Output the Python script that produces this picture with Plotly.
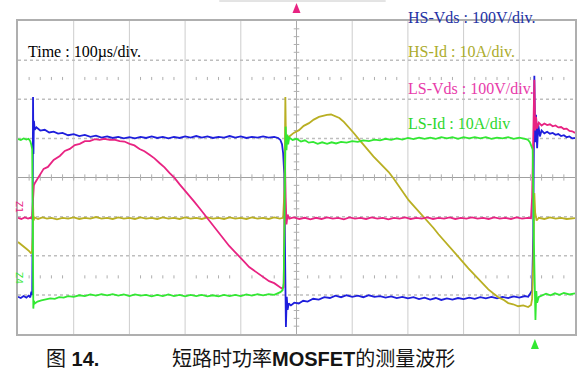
import plotly.graph_objects as go

# Oscilloscope capture: time in microseconds (100 us/div, 10 div), amplitude in divisions (8 div)
hs_vds = [(0,-3.05),(5,-3.08),(10,-3.03),(15,-3.07),(19,-3.02),(22,-3.06),(24,-2.92),(25.5,-3.0),(26.3,-1.2),(27,2.06),
          (27.7,0.6),(28.6,1.45),(30,1.22),(33,1.28),(40,1.20),(48,1.22),(56,1.15),(64,1.17),(72,1.12),(80,1.14),
          (90,1.08),(100,1.11),(110,1.06),(120,1.09),(130,1.04),(140,1.07),(150,1.02),(160,1.05),(170,1.01),(180,1.04),
          (190,1.00),(200,1.03),(210,1.00),(220,1.04),(230,1.01),(240,1.05),(250,1.01),(260,1.04),(270,1.00),(280,1.04),
          (290,1.01),(300,1.05),(310,1.02),(320,1.06),(330,1.02),(340,1.05),(350,1.01),(360,1.04),(370,1.02),(380,1.06),
          (390,1.02),(400,1.05),(410,1.01),(420,1.04),(430,1.02),(440,1.05),(450,1.02),(460,1.04),(467,1.01),(471,0.96),
          (474,0.85),(476,0.62),(478,0.1),(479.5,-2.0),(481,-3.82),(482.5,-3.05),(484,-3.38),(486,-3.22),(490,-3.27),(496,-3.20),
          (504,-3.22),(512,-3.15),(520,-3.17),(530,-3.10),(540,-3.12),(550,-3.06),(560,-3.08),(570,-3.02),(580,-3.06),(590,-3.01),
          (600,-3.05),(610,-3.02),(620,-3.06),(630,-3.01),(640,-3.05),(650,-3.03),(660,-3.07),(670,-3.04),(680,-3.08),(690,-3.05),
          (700,-3.09),(710,-3.06),(720,-3.11),(730,-3.07),(740,-3.12),(750,-3.08),(760,-3.13),(770,-3.09),(780,-3.12),(790,-3.08),
          (800,-3.11),(810,-3.07),(820,-3.10),(830,-3.06),(840,-3.09),(850,-3.05),(860,-3.09),(870,-3.05),(880,-3.08),(890,-3.04),
          (900,-3.07),(910,-3.03),(916,-3.05),(920,-2.96),(923,-2.88),(925,-1.5),(927,2.60),(928.5,0.9),(930,1.6),(932,0.75),
          (934,1.35),(937,1.05),(940,1.20),(945,1.13),(950,1.17),(955,1.12),(960,1.14),(965,1.09),(970,1.11),(975,1.06),
          (980,1.08),(985,1.03),(990,1.05),(995,1.00),(1000,1.01)]

hs_id = [(0,-1.65),(5,-1.70),(10,-1.76),(15,-1.82),(20,-1.88),(23,-1.93),(25,-1.92),(26.3,-1.5),(27,-0.7),(28,-1.1),
         (30,-1.02),(36,-1.06),(44,-1.02),(52,-1.05),(60,-1.03),(70,-1.07),(80,-1.03),(90,-1.05),(100,-1.02),(110,-1.06),
         (120,-1.03),(130,-1.05),(140,-1.01),(150,-1.05),(160,-1.03),(170,-1.06),(180,-1.02),(190,-1.05),(200,-1.03),(210,-1.06),
         (220,-1.02),(230,-1.05),(240,-1.03),(250,-1.06),(260,-1.02),(270,-1.05),(280,-1.03),(290,-1.06),(300,-1.02),(310,-1.05),
         (320,-1.03),(330,-1.06),(340,-1.02),(350,-1.05),(360,-1.03),(370,-1.06),(380,-1.02),(390,-1.05),(400,-1.03),(410,-1.06),
         (420,-1.02),(430,-1.05),(440,-1.03),(450,-1.06),(460,-1.02),(470,-1.05),(476,-1.03),(478.5,-0.3),(480,2.06),(481,1.0),
         (482.5,0.85),(484,1.05),(486.6,1.04),(495,1.14),(504.5,1.21),(513,1.32),(522.4,1.39),(531,1.48),(540.3,1.55),(547,1.58),
         (554.6,1.60),(562,1.61),(568.9,1.57),(577,1.52),(585,1.42),(593.9,1.29),(602,1.15),(611.8,0.98),(620,0.83),(629.7,0.68),
         (638,0.54),(647.6,0.40),(656,0.27),(665.5,0.14),(674,-0.02),(683.4,-0.22),(692,-0.39),(701.3,-0.58),(710,-0.72),(719.1,-0.86),
         (728,-1.00),(737,-1.14),(746,-1.29),(754.9,-1.45),(764,-1.60),(772.8,-1.76),(782,-1.89),(790.7,-2.03),(800,-2.18),(808.6,-2.32),
         (817,-2.45),(826.5,-2.60),(835,-2.72),(844.4,-2.86),(853,-2.96),(862.3,-3.06),(871,-3.12),(880.1,-3.21),(889,-3.24),(898,-3.29),
         (907,-3.27),(915.9,-3.31),(921,-3.26),(923,-3.10),(925,-2.2),(927,-0.4),(928.5,-0.9),(931,-1.1),(935,-1.03),(945,-1.06),
         (955,-1.02),(965,-1.05),(975,-1.03),(985,-1.06),(1000,-1.04)]

ls_vds = [(0,-1.03),(6,-1.06),(12,-1.02),(18,-1.05),(22,-1.03),(25,-1.05),(26,-0.8),(27,-0.35),(28.5,-0.2),(30.4,-0.14),
          (35,-0.03),(39.4,0.04),(46,0.22),(53.7,0.27),(64,0.45),(75.1,0.55),(84,0.68),(93,0.73),(102,0.83),(110.9,0.86),
          (120,0.93),(128.8,0.93),(138,0.98),(146.7,0.96),(155,0.99),(164.6,0.96),(173,0.97),(182.5,0.93),(191,0.92),(200.4,0.86),
          (209,0.82),(218.2,0.73),(227,0.67),(236.1,0.58),(245,0.49),(254,0.37),(263,0.26),(271.9,0.12),(281,-0.01),(289.8,-0.17),
          (298,-0.30),(307.7,-0.47),(316,-0.61),(325.6,-0.78),(334,-0.93),(343.5,-1.11),(352,-1.27),(361.4,-1.45),(370,-1.58),(379.2,-1.75),
          (388,-1.88),(397.1,-2.03),(406,-2.15),(415,-2.29),(424,-2.38),(432.9,-2.49),(442,-2.56),(450.8,-2.65),(460,-2.70),(468.7,-2.78),
          (474,-2.84),(477,-2.80),(478.5,-1.5),(479.5,0.3),(480.5,-0.5),(482,-1.2),(484,-0.95),(487,-1.05),(495,-1.02),(505,-1.06),
          (515,-1.03),(525,-1.07),(535,-1.03),(545,-1.06),(555,-1.02),(565,-1.05),(575,-1.03),(585,-1.07),(595,-1.02),(605,-1.05),
          (615,-1.03),(625,-1.06),(635,-1.02),(645,-1.05),(655,-1.03),(665,-1.07),(675,-1.03),(685,-1.05),(695,-1.02),(705,-1.06),
          (715,-1.03),(725,-1.05),(735,-1.02),(745,-1.06),(755,-1.03),(765,-1.05),(775,-1.02),(785,-1.06),(795,-1.03),(805,-1.05),
          (815,-1.02),(825,-1.05),(835,-1.03),(845,-1.06),(855,-1.02),(865,-1.05),(875,-1.03),(885,-1.06),(895,-1.02),(905,-1.05),
          (915,-1.03),(921,-1.04),(923,-0.5),(925,1.3),(927,2.5),(928.5,1.2),(930,1.55),(932,1.25),(935,1.40),(940,1.33),
          (945,1.38),(950,1.34),(955,1.36),(960,1.31),(965,1.33),(970,1.28),(975,1.29),(980,1.24),(985,1.25),(990,1.19),
          (995,1.18),(1000,1.14)]

ls_id = [(0,0.98),(5,0.96),(10,1.00),(15,0.97),(19,0.99),(22,0.93),(24,0.83),(25.5,0.72),(26.5,-1.0),(27.5,-3.35),
         (28.5,-3.15),(30,-3.22),(35,-3.17),(42,-3.14),(50,-3.12),(58,-3.09),(66,-3.10),(74,-3.06),(82,-3.07),(90,-3.03),
         (100,-3.05),(110,-3.01),(120,-3.03),(130,-2.99),(140,-3.02),(150,-2.98),(160,-3.01),(170,-2.98),(180,-3.02),(190,-2.99),
         (200,-3.03),(210,-2.99),(220,-3.02),(230,-3.00),(240,-3.04),(250,-3.00),(260,-3.03),(270,-2.99),(280,-3.03),(290,-3.00),
         (300,-3.04),(310,-3.00),(320,-3.03),(330,-3.00),(340,-3.04),(350,-3.01),(360,-3.04),(370,-3.00),(380,-3.03),(390,-3.00),
         (400,-3.03),(410,-2.99),(420,-3.02),(430,-2.98),(440,-3.01),(450,-2.98),(460,-3.00),(466,-2.96),(471,-2.93),(475,-2.88),
         (477,-2.7),(479,-0.5),(480.5,1.30),(482,0.7),(483.5,1.10),(485,0.85),(487,1.02),(493,0.96),(500,0.99),(508,0.92),
         (515,0.95),(522,0.89),(530,0.91),(538,0.86),(546,0.90),(555,0.86),(563,0.90),(571,0.87),(580,0.91),(590,0.89),
         (600,0.93),(610,0.91),(620,0.95),(630,0.93),(640,0.97),(650,0.95),(660,0.99),(670,0.96),(680,1.00),(690,0.97),
         (700,1.01),(710,0.98),(720,1.02),(730,0.99),(740,1.02),(750,0.99),(760,1.03),(770,1.00),(780,1.03),(790,0.99),
         (800,1.03),(810,1.00),(820,1.03),(830,1.00),(840,1.03),(850,0.99),(860,1.02),(870,1.00),(880,1.03),(890,0.99),
         (900,1.02),(910,0.99),(915,0.97),(919,0.90),(922,0.80),(924,0.72),(926,-1.5),(929,-3.64),(930.5,-2.9),(932,-3.2),
         (935,-3.05),(940,-3.02),(948,-2.97),(956,-3.01),(964,-2.96),(972,-3.00),(980,-2.95),(990,-2.99),(1000,-2.96)]

trigger_time = 500      # pink trigger-position marker above the screen
cursor_time = 928       # green marker below the screen

channel_labels = ["HS-Vds : 100V/div.", "HS-Id : 10A/div.", "LS-Vds : 100V/div.", "LS-Id : 10A/div"]
time_label = "Time : 100µs/div."
caption_left = "图 <b>14.</b>"
caption_right = "短路时功率<b>MOSFET</b>的测量波形"

C_BLUE = "rgb(30,30,220)"
C_YEL = "rgb(185,175,35)"
C_PINK = "rgb(232,35,130)"
C_GREEN = "rgb(50,232,50)"

fig = go.Figure()

# graticule minor ticks (drawn first, beneath the traces)
tick_x, tick_y = [], []
for k in range(1, 50):
    x = k * 20
    tick_x += [x, x, None]
    tick_y += [-0.08, 0.08, None]
    if k % 5:
        for yy in (2.53, -2.54):
            tick_x += [x, x, None]
            tick_y += [yy - 0.04, yy + 0.04, None]
for k in range(1, 40):
    y = -4 + k * 0.2
    tick_x += [495, 505, None]
    tick_y += [y, y, None]
fig.add_trace(go.Scatter(x=tick_x, y=tick_y, mode="lines", line=dict(color="rgb(175,175,175)", width=1),
                         hoverinfo="skip", showlegend=False))

for data, col in [(hs_vds, C_BLUE), (hs_id, C_YEL), (ls_vds, C_PINK), (ls_id, C_GREEN)]:
    fig.add_trace(go.Scatter(x=[p[0] for p in data], y=[p[1] for p in data], mode="lines",
                             line=dict(color=col, width=1.8), hoverinfo="skip", showlegend=False))

shapes = []
grid_col = "rgb(190,190,190)"
for i in range(1, 10):
    shapes.append(dict(type="line", xref="x", yref="y", x0=i*100, x1=i*100, y0=-4, y1=4, layer="below",
                       line=dict(color="rgb(170,170,170)" if i == 5 else "rgb(205,205,205)", width=1)))
for j in range(-3, 4):
    shapes.append(dict(type="line", xref="x", yref="y", x0=0, x1=1000, y0=j, y1=j, layer="below",
                       line=dict(color="rgb(160,160,160)" if j == 0 else grid_col, width=1 if j == 0 else 1.5,
                                 dash="solid" if j == 0 else "dot")))

# faint frame line above the screen
shapes.append(dict(type="line", xref="paper", yref="paper", x0=(220-18)/559, x1=(387-18)/559,
                   y0=(334-1)/313, y1=(334-1)/313, line=dict(color="rgb(200,200,200)", width=1)))

# trigger / cursor triangles (x in data units, y in pixels relative to the plot frame)
def tri(t, base_py, tip_py, col):
    xw = 4 / 0.559
    y_b = (334 - base_py) / 313
    y_t = (334 - tip_py) / 313
    return dict(type="path", xref="x", yref="paper",
                path=f"M {t - xw} {y_b} L {t + xw} {y_b} L {t} {y_t} Z",
                fillcolor=col, line=dict(color=col, width=0))
shapes.append(tri(trigger_time, 13, 3, C_PINK))
shapes.append(tri(cursor_time, 349, 339, C_GREEN))

ann = []
serif = "Liberation Serif, Times New Roman, serif"
ann.append(dict(text=time_label, xref="paper", yref="paper", x=(26-18)/559, y=(334-52)/313,
                xanchor="left", yanchor="middle", showarrow=False,
                font=dict(family=serif, size=16, color="black")))
label_cols = ["rgb(35,50,165)", "rgb(172,172,45)", "rgb(232,60,170)", "rgb(45,215,45)"]
label_y = [17, 52, 88, 123]
for txt, col, py in zip(channel_labels, label_cols, label_y):
    ann.append(dict(text=txt, xref="paper", yref="paper", x=(407-18)/559, y=(334-py)/313,
                    xanchor="left", yanchor="middle", showarrow=False,
                    font=dict(family=serif, size=16, color=col)))
ann.append(dict(text="Z1", xref="paper", yref="paper", x=(12-18)/559, y=(334-207)/313, textangle=90,
                showarrow=False, font=dict(family="DejaVu Sans", size=9, color=C_PINK)))
ann.append(dict(text="Z4", xref="paper", yref="paper", x=(12-18)/559, y=(334-286)/313, textangle=90,
                showarrow=False, font=dict(family="DejaVu Sans", size=9, color=C_GREEN)))
cap_font = dict(family="Liberation Sans, Arial, Noto Sans CJK SC", size=20, color="rgb(20,20,20)")
ann.append(dict(text=caption_left, xref="paper", yref="paper", x=(44-18)/559, y=(334-359)/313,
                xanchor="left", yanchor="middle", showarrow=False, font=cap_font))
ann.append(dict(text=caption_right, xref="paper", yref="paper", x=(171-18)/559, y=(334-359)/313,
                xanchor="left", yanchor="middle", showarrow=False, font=cap_font))

fig.update_layout(
    width=587, height=380, margin=dict(l=18, r=10, t=21, b=46),
    paper_bgcolor="white", plot_bgcolor="white",
    xaxis=dict(range=[0, 1000], showgrid=False, zeroline=False, showticklabels=False, ticks="",
               showline=True, mirror=True, linecolor="rgb(175,175,175)", linewidth=2, fixedrange=True),
    yaxis=dict(range=[-4, 4], showgrid=False, zeroline=False, showticklabels=False, ticks="",
               showline=True, mirror=True, linecolor="rgb(175,175,175)", linewidth=2, fixedrange=True),
    shapes=shapes, annotations=ann, showlegend=False,
)

fig.write_html("out.html", config={"displayModeBar": False, "staticPlot": True})
